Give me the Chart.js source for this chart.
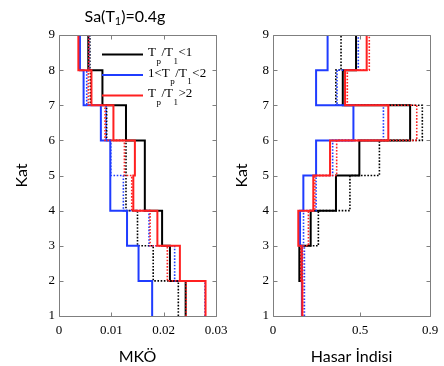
<!DOCTYPE html>
<html><head><meta charset="utf-8">
<script src="https://cdn.jsdelivr.net/npm/chart.js@4.4.1/dist/chart.umd.min.js"></script>
<style>
html,body{margin:0;padding:0;background:#fff;}
#wrap{position:relative;width:444px;height:366px;background:#fff;}
canvas{position:absolute;left:0;top:0;}
</style>
</head><body>
<div id="wrap"><canvas id="c1" width="444" height="366"></canvas><canvas id="c2" width="444" height="366"></canvas></div>
<script>
// ---- data ----
const floorTicks = [1, 2, 3, 4, 5, 6, 7, 8, 9];
const stories = [1, 2, 3, 4, 5, 6, 7, 8];
const mkoTicks = [0, 0.01, 0.02, 0.03];
const hiTicks = [0, 0.5, 0.9];
const titleMain = "Sa(T";
const titleSub = "1";
const titleEnd = ")=0.4g";
const yTitle = "Kat";
const xTitleLeft = "MKÖ";
const xTitleRight = "Hasar İndisi";

// MKÖ (left panel), stories 1..8
const mkoBlackSolid  = [0.0242, 0.0212, 0.0197, 0.0164, 0.0164, 0.0128, 0.0083, 0.0056];
const mkoBlackDotted = [0.0228, 0.0180, 0.0150, 0.0128, 0.0128, 0.0091, 0.0060, 0.0059];
const mkoBlueSolid   = [0.0178, 0.0152, 0.0130, 0.0098, 0.0098, 0.0080, 0.0047, 0.0040];
const mkoBlueDotted  = [0.0279, 0.0221, 0.0172, 0.0123, 0.0099, 0.0090, 0.0053, 0.0058];
const mkoRedSolid    = [0.0280, 0.0231, 0.0188, 0.0142, 0.0145, 0.0104, 0.0062, 0.0037];
const mkoRedDotted   = [0.0243, 0.0207, 0.0174, 0.0139, 0.0125, 0.0088, 0.0056, 0.0057];
const mkoRedSolidTop = 0.0024;

// Hasar İndisi (right panel), stories 1..8
const hiBlackSolid  = [0.166, 0.151, 0.216, 0.361, 0.495, 0.786, 0.400, 0.476];
const hiBlackDotted = [0.166, 0.160, 0.260, 0.441, 0.610, 0.856, 0.360, 0.390];
const hiBlueSolid   = [0.166, 0.166, 0.155, 0.174, 0.247, 0.461, 0.247, 0.313];
const hiBlueDotted  = [0.180, 0.180, 0.175, 0.247, 0.342, 0.633, 0.367, 0.489];
const hiRedSolid    = [0.168, 0.163, 0.145, 0.231, 0.327, 0.661, 0.413, 0.537];
const hiRedDotted   = [0.170, 0.170, 0.203, 0.240, 0.365, 0.824, 0.426, 0.552];
const hiRedSolidTop = 0.87;

const legendEntries = [
  {parts: [["T", 0], ["p", 1], ["/T", 0], ["1", 1], ["<1", 0]], color: "#000000"},
  {parts: [["1<T", 0], ["p", 1], ["/T", 0], ["1", 1], ["<2", 0]], color: "#1f3cff"},
  {parts: [["T", 0], ["p", 1], ["/T", 0], ["1", 1], [">2", 0]], color: "#ff2020"}
];

// ---- helpers ----
const BLACK = "#000000", BLUE = "#1f3cff", RED = "#ff2020";
const SERIF = "'Times New Roman', 'Liberation Serif', serif";
function stairs(vals, top) {
  const pts = [];
  vals.forEach((v, i) => {
    pts.push({x: v, y: stories[i]});
    pts.push({x: v, y: stories[i] + 1});
  });
  if (top !== undefined) pts.push({x: top, y: floorTicks[floorTicks.length - 1]});
  return pts;
}
function ds(label, vals, color, dotted, top) {
  return {
    label, data: stairs(vals, top), borderColor: color, backgroundColor: color,
    borderWidth: dotted ? 1.6 : 2, borderDash: dotted ? [1.6, 1.6] : [],
    showLine: true, pointRadius: 0, tension: 0, fill: false
  };
}

const framePlugin = {
  id: 'frame',
  afterDatasetsDraw(chart) {
    const {ctx, chartArea: a} = chart;
    const x = chart.scales.x, y = chart.scales.y;
    ctx.save();
    ctx.strokeStyle = '#7f7f7f';
    ctx.lineWidth = 1;
    const L = Math.round(a.left) + 0.5, T = Math.round(a.top) + 0.5;
    const R = Math.round(a.right) + 0.5, B = Math.round(a.bottom) + 0.5;
    ctx.beginPath();
    ctx.rect(L, T, R - L, B - T);
    x.ticks.forEach(t => {
      const px = Math.round(x.getPixelForValue(t.value)) + 0.5;
      ctx.moveTo(px, B); ctx.lineTo(px, B - 4);
      ctx.moveTo(px, T); ctx.lineTo(px, T + 4);
    });
    y.ticks.forEach(t => {
      const py = Math.round(y.getPixelForValue(t.value)) + 0.5;
      ctx.moveTo(L, py); ctx.lineTo(L + 4, py);
      ctx.moveTo(R, py); ctx.lineTo(R - 4, py);
    });
    ctx.stroke();
    ctx.restore();
  }
};

const titleLegendPlugin = {
  id: 'titleLegend',
  afterDraw(chart) {
    const ctx = chart.ctx;
    ctx.save();
    ctx.fillStyle = '#000';
    ctx.textBaseline = 'alphabetic';
    ctx.textAlign = 'left';
    const mainFont = '16px Lato', subFont = '11px Lato';
    ctx.font = mainFont; const w1 = ctx.measureText(titleMain).width; const w3 = ctx.measureText(titleEnd).width;
    ctx.font = subFont; const w2 = ctx.measureText(titleSub).width;
    let tx = 125 - (w1 + w2 + w3) / 2;
    const ty = 22;
    ctx.font = mainFont; ctx.fillText(titleMain, tx, ty); tx += w1;
    ctx.font = subFont; ctx.fillText(titleSub, tx, ty + 3); tx += w2;
    ctx.font = mainFont; ctx.fillText(titleEnd, tx, ty);
    const ys = [54.5, 75, 95.5];
    legendEntries.forEach((e, i) => {
      const ly = ys[i];
      ctx.strokeStyle = e.color; ctx.lineWidth = 2; ctx.setLineDash([]);
      ctx.beginPath(); ctx.moveTo(102, ly); ctx.lineTo(143, ly); ctx.stroke();
      let x = 148;
      e.parts.forEach(([s, sub]) => {
        ctx.fillStyle = '#000';
        ctx.font = (sub ? '9px ' : '13px ') + SERIF;
        ctx.fillText(s, x, sub ? ly + 9 : ly + 1.5);
        x += ctx.measureText(s).width + 0.5;
      });
    });
    ctx.restore();
  }
};

function makeConfig(datasets, xTicks, xTitle, padLeft, padRight, yWidth, yTitlePad, plugins) {
  const tickFont = {family: SERIF, size: 13};
  return {
    type: 'scatter',
    data: {datasets},
    options: {
      responsive: false, animation: false, devicePixelRatio: 1,
      events: [],
      layout: {padding: {left: padLeft, right: padRight, top: 35, bottom: 0}},
      plugins: {legend: {display: false}, tooltip: {enabled: false}, title: {display: false}},
      scales: {
        x: {
          type: 'linear', min: xTicks[0], max: xTicks[xTicks.length - 1],
          grid: {display: false, drawTicks: false}, border: {display: false},
          afterBuildTicks: s => { s.ticks = xTicks.map(v => ({value: v})); },
          afterFit: s => { s.height = 50; s.paddingLeft = 0; s.paddingRight = 0; },
          ticks: {font: tickFont, color: '#000', padding: 7, autoSkip: false, maxRotation: 0, minRotation: 0,
                  callback: v => String(v)},
          title: {display: true, text: xTitle, font: {family: 'Lato', size: 16}, color: '#000', padding: {top: 0, bottom: 0}}
        },
        y: {
          type: 'linear', min: floorTicks[0], max: floorTicks[floorTicks.length - 1],
          grid: {display: false, drawTicks: false}, border: {display: false},
          afterBuildTicks: s => { s.ticks = floorTicks.map(v => ({value: v})); },
          afterFit: s => { s.width = yWidth; s.paddingTop = 0; s.paddingBottom = 0; },
          ticks: {font: tickFont, color: '#000', padding: 4, autoSkip: false, callback: v => String(v)},
          title: {display: true, text: yTitle, font: {family: 'Lato', size: 16}, color: '#000', padding: {top: yTitlePad, bottom: 0}}
        }
      }
    },
    plugins
  };
}

const leftSets = [
  ds('Tp/T1>2', mkoRedSolid, RED, false, mkoRedSolidTop),
  ds('Tp/T1>2 (nokta)', mkoRedDotted, RED, true),
  ds('1<Tp/T1<2 (nokta)', mkoBlueDotted, BLUE, true),
  ds('1<Tp/T1<2', mkoBlueSolid, BLUE, false),
  ds('Tp/T1<1', mkoBlackSolid, BLACK, false),
  ds('Tp/T1<1 (nokta)', mkoBlackDotted, BLACK, true)
];
const rightSets = [
  ds('Tp/T1>2', hiRedSolid, RED, false, hiRedSolidTop),
  ds('Tp/T1>2 (nokta)', hiRedDotted, RED, true),
  ds('1<Tp/T1<2 (nokta)', hiBlueDotted, BLUE, true),
  ds('1<Tp/T1<2', hiBlueSolid, BLUE, false),
  ds('Tp/T1<1', hiBlackSolid, BLACK, false),
  ds('Tp/T1<1 (nokta)', hiBlackDotted, BLACK, true)
];

new Chart(document.getElementById('c1'), makeConfig(leftSets, mkoTicks, xTitleLeft, 0, 228, 59, 12, [framePlugin, titleLegendPlugin]));
new Chart(document.getElementById('c2'), makeConfig(rightSets, hiTicks, xTitleRight, 222, 14, 51, 10, [framePlugin]));
</script>
</body></html>
